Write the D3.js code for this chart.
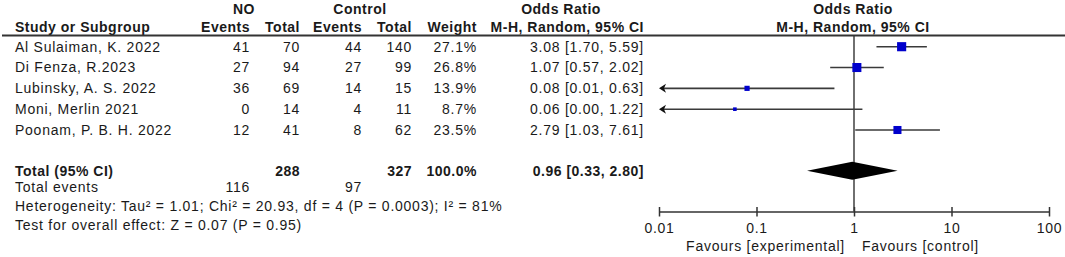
<!DOCTYPE html>
<html>
<head>
<meta charset="utf-8">
<script src="https://cdn.jsdelivr.net/npm/d3@7"></script>
<style>
  html, body { margin: 0; padding: 0; background: #fff; }
  svg { display: block; }
  text { font-family: "Liberation Sans", Arial, sans-serif; font-size: 14px; fill: #1a1a1a; letter-spacing: 0.75px; }
  .b { font-weight: bold; letter-spacing: 0.5px; }
</style>
</head>
<body>
<svg id="chart" width="1065" height="257"></svg>
<script>
// ---------- data ----------
const studies   = ["Al Sulaiman, K. 2022", "Di Fenza, R.2023", "Lubinsky, A. S. 2022", "Moni, Merlin 2021", "Poonam, P. B. H. 2022"];
const expEvents = [41, 27, 36, 0, 12];
const expTotal  = [70, 94, 69, 14, 41];
const ctlEvents = [44, 27, 14, 4, 8];
const ctlTotal  = [140, 99, 15, 11, 62];
const weights   = [27.1, 26.8, 13.9, 8.7, 23.5];
const oddsRatio = [3.08, 1.07, 0.08, 0.06, 2.79];
const ciLow     = [1.70, 0.57, 0.01, 0.00, 1.03];
const ciHigh    = [5.59, 2.02, 0.63, 1.22, 7.61];

const totalExp = 288, totalCtl = 327, totalWeight = "100.0%";
const pooledOR = 0.96, pooledLow = 0.33, pooledHigh = 2.80;
const totalExpEvents = 116, totalCtlEvents = 97;
const heterogeneityText = "Heterogeneity: Tau\u00B2 = 1.01; Chi\u00B2 = 20.93, df = 4 (P = 0.0003); I\u00B2 = 81%";
const overallText = "Test for overall effect: Z = 0.07 (P = 0.95)";

const tickValues = [0.01, 0.1, 1, 10, 100];
const tickLabels = ["0.01", "0.1", "1", "10", "100"];
const favourLeft = "Favours [experimental]", favourRight = "Favours [control]";

// ---------- layout ----------
const svg = d3.select("#chart");
const x = d3.scaleLog().domain([0.01, 100]).range([659, 1049]);
const rowY = d3.scalePoint().domain(d3.range(studies.length)).range([46.7, 130]);
const sq = d3.scaleLinear().domain([0, 30]).range([1, 10]);
const yTotal = 170.7, yEvents = 187.5, yHet = 206, yTest = 225.5;
const axisY = 211.5;

const col = { study: 15, ee: 250, et: 300, ce: 362, ct: 412, w: 477, or: 644 };

function txt(xp, yp, s, anchor, bold) {
  return svg.append("text").attr("x", xp).attr("y", yp).attr("dy", "0.35em")
    .attr("text-anchor", anchor || "start").attr("class", bold ? "b" : null).text(s);
}

// headers
txt(244, 9, "NO", "middle", true);
txt(360, 9, "Control", "middle", true);
txt(561, 9, "Odds Ratio", "middle", true);
txt(853, 9, "Odds Ratio", "middle", true);
txt(col.study, 27, "Study or Subgroup", "start", true);
txt(col.ee, 27, "Events", "end", true);
txt(col.et, 27, "Total", "end", true);
txt(col.ce, 27, "Events", "end", true);
txt(col.ct, 27, "Total", "end", true);
txt(col.w, 27, "Weight", "end", true);
txt(col.or, 27, "M-H, Random, 95% CI", "end", true);
txt(853, 27, "M-H, Random, 95% CI", "middle", true);

svg.append("line").attr("x1", 2).attr("x2", 1065).attr("y1", 35.5).attr("y2", 35.5)
  .attr("stroke", "#333").attr("stroke-width", 1.8);

// study rows
studies.forEach((s, i) => {
  const y = rowY(i);
  txt(col.study, y, s);
  txt(col.ee, y, expEvents[i], "end");
  txt(col.et, y, expTotal[i], "end");
  txt(col.ce, y, ctlEvents[i], "end");
  txt(col.ct, y, ctlTotal[i], "end");
  txt(col.w, y, weights[i].toFixed(1) + "%", "end");
  txt(col.or, y, oddsRatio[i].toFixed(2) + " [" + ciLow[i].toFixed(2) + ", " + ciHigh[i].toFixed(2) + "]", "end");
});

// totals
txt(col.study, yTotal, "Total (95% CI)", "start", true);
txt(col.et, yTotal, totalExp, "end", true);
txt(col.ct, yTotal, totalCtl, "end", true);
txt(col.w, yTotal, totalWeight, "end", true);
txt(col.or, yTotal, pooledOR.toFixed(2) + " [" + pooledLow.toFixed(2) + ", " + pooledHigh.toFixed(2) + "]", "end", true);
txt(col.study, yEvents, "Total events");
txt(col.ee, yEvents, totalExpEvents, "end");
txt(col.ce, yEvents, totalCtlEvents, "end");
txt(col.study, yHet, heterogeneityText);
txt(col.study, yTest, overallText);

// plot: vertical line at 1
svg.append("line").attr("x1", x(1)).attr("x2", x(1)).attr("y1", 36).attr("y2", axisY)
  .attr("stroke", "#333").attr("stroke-width", 1.4);

// CI lines, arrows, squares
const [dMin, dMax] = x.domain();
studies.forEach((s, i) => {
  const y = rowY(i);
  const lowClipped = ciLow[i] <= dMin;
  const x1 = x(Math.max(ciLow[i], dMin)), x2 = x(Math.min(ciHigh[i], dMax));
  svg.append("line").attr("x1", lowClipped ? x1 + 3 : x1).attr("x2", x2).attr("y1", y).attr("y2", y)
    .attr("stroke", "#3a3a3a").attr("stroke-width", 1.6);
  if (lowClipped) {
    svg.append("path").attr("d", `M${x1},${y} L${x1 + 7},${y - 4.5} L${x1 + 5},${y} L${x1 + 7},${y + 4.5} Z`).attr("fill", "#111");
  }
  const s2 = sq(weights[i]);
  svg.append("rect").attr("x", x(oddsRatio[i]) - s2 / 2).attr("y", y - s2 / 2)
    .attr("width", s2).attr("height", s2).attr("fill", "#0000cc");
});

// diamond
svg.append("path")
  .attr("d", `M${x(pooledLow)},${yTotal} L${x(pooledOR)},${yTotal - 9} L${x(pooledHigh)},${yTotal} L${x(pooledOR)},${yTotal + 9} Z`)
  .attr("fill", "#000");

// axis
const axis = d3.axisBottom(x).tickValues(tickValues)
  .tickFormat((d, i) => tickLabels[i]).tickSizeOuter(0).tickSizeInner(5);
const g = svg.append("g").attr("transform", `translate(0,${axisY})`).call(axis);
g.select(".domain").attr("stroke", "#333").attr("stroke-width", 1.5);
g.selectAll(".tick line").attr("y1", -4.5).attr("stroke", "#333").attr("stroke-width", 1.5);
g.selectAll(".tick text").attr("y", 16.5).attr("dy", "0.35em")
  .style("font-family", '"Liberation Sans", Arial, sans-serif').style("font-size", "14px")
  .style("fill", "#1a1a1a").style("letter-spacing", "0.75px");

txt(845, 246.5, favourLeft, "end");
txt(862, 246.5, favourRight, "start");
</script>
</body>
</html>
